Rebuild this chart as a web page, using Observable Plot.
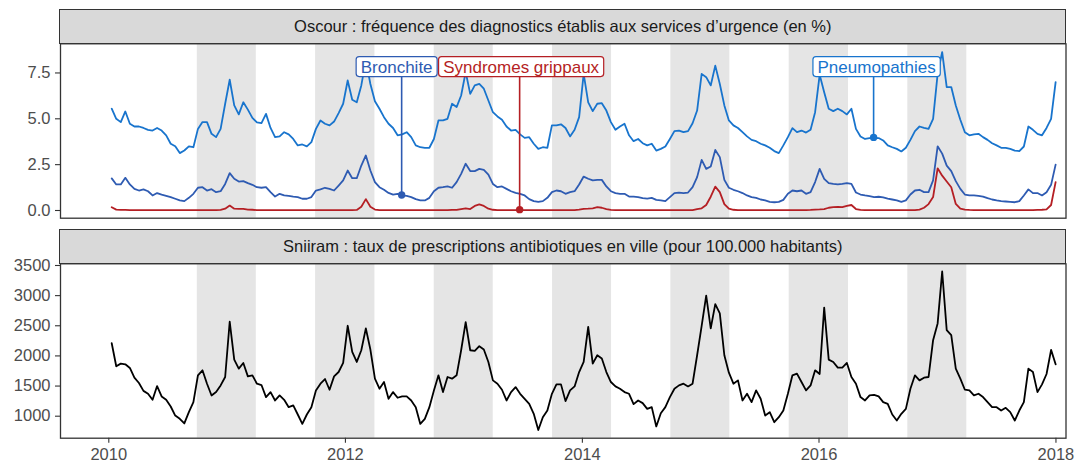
<!DOCTYPE html>
<html><head><meta charset="utf-8">
<script src="https://cdn.jsdelivr.net/npm/d3@7"></script>
<script src="https://cdn.jsdelivr.net/npm/@observablehq/plot@0.6"></script>
<style>
body{margin:0;background:#fff;}
#wrap{position:relative;width:1092px;height:465px;overflow:hidden;font-family:"Liberation Sans",Arial,sans-serif;}
.strip{position:absolute;box-sizing:border-box;background:#d9d9d9;border:1.3px solid #333;color:#1a1a1a;font-size:16.5px;display:flex;align-items:center;justify-content:center;white-space:nowrap;}
.pl{position:absolute;left:0;}
</style></head>
<body><div id="wrap">
<div id="p1" class="pl" style="top:0px"></div>
<div id="p2" class="pl" style="top:220px"></div>
<div class="strip" style="left:59.4px;top:9px;width:1006.8px;height:35px">Oscour : fréquence des diagnostics établis aux services d’urgence (en %)</div>
<div class="strip" style="left:59.4px;top:229px;width:1006.8px;height:35px">Sniiram : taux de prescriptions antibiotiques en ville (pour 100.000 habitants)</div>
</div>
<script>
// ---- data (biweekly, from 2010-01-10) ----
const startDate = new Date(2010, 0, 10);
const seriesNames = ["Pneumopathies", "Bronchite", "Syndromes grippaux"];
const pneumopathies = [
5.55,5.0,4.82,5.4,4.73,4.58,4.58,4.5,4.4,4.36,
4.5,4.36,4.1,3.64,3.5,3.13,3.27,3.5,3.45,4.45,
4.82,4.82,4.18,4.0,4.45,5.82,7.13,5.73,5.24,5.9,
5.5,5.05,4.8,4.76,5.27,4.5,4.0,4.04,4.27,4.15,
3.9,3.55,3.6,3.5,3.73,4.45,4.91,4.73,4.64,4.85,
5.31,5.82,7.09,6.04,5.9,6.82,8.2,6.9,5.96,5.55,
5.09,4.73,4.5,4.1,4.15,4.27,4.0,3.55,3.45,3.42,
3.42,3.9,4.91,4.91,5.0,5.82,5.64,6.27,7.55,6.36,
6.82,6.9,6.64,6.0,5.36,5.13,4.95,4.58,4.36,4.4,
4.15,3.96,4.0,3.64,3.36,3.45,3.42,4.64,4.64,4.7,
4.5,4.04,4.4,5.09,7.45,5.9,5.42,5.82,5.85,5.45,
4.82,4.4,4.58,4.73,4.1,3.78,3.9,3.67,3.55,3.64,
3.27,3.36,3.49,3.9,4.33,4.36,4.27,4.33,4.76,5.45,
7.45,7.27,6.82,7.9,6.9,5.73,4.91,4.64,4.5,4.27,
4.04,3.85,3.78,3.64,3.55,3.42,3.24,3.13,3.55,4.0,
4.49,4.27,4.36,4.25,4.4,5.36,7.4,6.45,5.55,5.42,
5.55,5.42,5.24,5.55,4.45,4.04,3.9,3.95,3.96,3.95,
3.82,3.55,3.45,3.36,3.22,3.42,3.85,4.33,4.58,4.5,
4.45,5.0,7.45,8.64,6.73,6.73,5.73,4.95,4.27,4.1,
4.15,4.18,4.0,3.85,3.67,3.55,3.42,3.42,3.36,3.27,
3.24,3.49,4.58,4.4,4.18,4.1,4.5,5.0,7.0];
const bronchite = [
1.75,1.42,1.42,1.78,1.42,1.18,1.09,1.15,1.05,0.82,
0.95,0.87,0.8,0.73,0.64,0.55,0.51,0.69,0.91,1.24,
1.27,1.09,1.16,1.0,1.05,1.45,2.04,1.73,1.58,1.6,
1.49,1.4,1.27,1.24,1.27,1.0,0.76,0.91,0.82,0.8,
0.76,0.73,0.64,0.64,0.73,1.09,1.15,1.24,1.18,1.09,
1.36,1.64,2.18,1.76,1.76,2.45,3.0,2.18,1.55,1.27,
1.13,0.96,0.87,0.91,0.82,0.8,0.73,0.62,0.55,0.55,
0.69,1.05,1.24,1.27,1.31,1.24,1.55,2.0,2.55,2.15,
2.15,2.27,2.22,1.96,1.45,1.27,1.31,1.18,1.05,0.96,
0.91,0.82,0.62,0.51,0.47,0.51,0.69,1.0,1.09,1.05,
0.91,1.0,1.05,1.42,1.85,1.73,1.64,1.67,1.67,1.31,
1.05,0.95,0.91,0.91,0.76,0.76,0.73,0.67,0.65,0.69,
0.58,0.55,0.51,0.73,0.95,0.98,0.95,0.98,1.27,1.82,
2.76,2.27,2.4,3.3,2.91,1.67,1.24,1.13,1.05,0.95,
0.82,0.73,0.69,0.6,0.55,0.47,0.45,0.47,0.58,0.91,
1.09,1.05,1.09,0.91,1.0,1.55,2.27,1.73,1.49,1.45,
1.42,1.45,1.49,1.45,0.98,0.87,0.82,0.78,0.73,0.75,
0.71,0.65,0.6,0.55,0.47,0.55,0.87,1.09,1.13,1.0,
1.0,1.64,3.5,3.1,2.45,2.15,1.6,1.18,0.87,0.82,
0.82,0.8,0.76,0.67,0.6,0.55,0.51,0.49,0.47,0.45,
0.51,0.82,1.15,0.95,0.95,0.82,1.0,1.4,2.5];
const syndromesGrippaux = [
0.18,0.05,0.03,0.03,0.02,0.02,0.02,0.02,0.02,0.02,
0.02,0.02,0.02,0.02,0.02,0.02,0.02,0.02,0.02,0.02,
0.02,0.02,0.02,0.02,0.03,0.1,0.27,0.1,0.09,0.09,
0.05,0.04,0.02,0.02,0.02,0.02,0.02,0.02,0.02,0.02,
0.02,0.02,0.02,0.02,0.02,0.02,0.02,0.02,0.02,0.02,
0.02,0.02,0.02,0.02,0.03,0.2,0.62,0.2,0.05,0.02,
0.02,0.02,0.02,0.02,0.02,0.02,0.02,0.02,0.02,0.02,
0.02,0.02,0.02,0.02,0.02,0.03,0.03,0.08,0.12,0.08,
0.25,0.33,0.25,0.1,0.04,0.02,0.02,0.02,0.02,0.02,
0.02,0.02,0.02,0.02,0.02,0.02,0.02,0.02,0.02,0.02,
0.02,0.02,0.02,0.05,0.09,0.1,0.12,0.18,0.15,0.08,
0.03,0.02,0.02,0.02,0.02,0.02,0.02,0.02,0.02,0.02,
0.02,0.02,0.02,0.02,0.02,0.02,0.02,0.02,0.02,0.08,
0.12,0.3,0.75,1.3,1.0,0.35,0.1,0.04,0.02,0.02,
0.02,0.02,0.02,0.02,0.02,0.02,0.02,0.02,0.02,0.02,
0.02,0.02,0.02,0.02,0.03,0.05,0.06,0.08,0.15,0.18,
0.2,0.18,0.25,0.3,0.08,0.03,0.02,0.02,0.02,0.02,
0.02,0.02,0.02,0.02,0.02,0.02,0.02,0.02,0.05,0.15,
0.35,0.73,2.3,1.9,1.58,1.27,0.36,0.1,0.05,0.03,
0.02,0.02,0.02,0.02,0.02,0.02,0.02,0.02,0.02,0.02,
0.02,0.02,0.02,0.02,0.03,0.04,0.06,0.3,1.55];
const sniiram = [
2210,1828,1872,1861,1800,1639,1550,1420,1372,1272,
1500,1328,1272,1161,1011,956,880,1067,1233,1678,
1761,1539,1344,1400,1511,1650,2567,1939,1789,1883,
1661,1678,1539,1517,1317,1400,1261,1344,1272,1150,
1178,1028,872,1028,1150,1428,1539,1617,1439,1661,
1733,1883,2500,2067,1900,2094,2456,2106,1622,1456,
1567,1289,1400,1306,1328,1328,1261,1150,872,956,
1150,1428,1678,1400,1650,1622,1678,2094,2560,2094,
2083,2161,2106,1900,1594,1539,1439,1261,1400,1483,
1372,1289,1206,1039,770,983,1094,1372,1528,1528,
1250,1428,1494,1733,1900,2480,1872,2011,1956,1733,
1567,1494,1456,1400,1372,1200,1261,1217,1122,1150,
830,1050,1150,1317,1456,1511,1539,1494,1539,2011,
2500,3000,2456,2860,2706,2011,1722,1539,1594,1261,
1372,1233,1428,1289,1011,1067,900,983,1094,1372,
1678,1706,1567,1428,1511,1761,1700,2800,1939,1900,
1806,1806,1883,1650,1539,1317,1261,1344,1355,1328,
1233,1206,1028,928,1039,1122,1456,1678,1594,1639,
1650,2261,2539,3400,2428,2344,1789,1622,1439,1428,
1344,1372,1317,1233,1150,1150,1094,1139,1067,928,
1094,1233,1789,1733,1400,1528,1700,2100,1860];
const winterStartYears = [2010, 2011, 2012, 2013, 2014, 2015, 2016];
const oscourTicks = [0, 2.5, 5, 7.5];
const sniiramTicks = [1000, 1500, 2000, 2500, 3000, 3500];
const yearTicks = [2010, 2012, 2014, 2016, 2018];
const labelIndex = {"Bronchite": 64, "Syndromes grippaux": 90, "Pneumopathies": 168};

// ---- derived ----
const dates = pneumopathies.map((_, k) => d3.timeDay.offset(startDate, 14 * k));
const valuesBySeries = {"Pneumopathies": pneumopathies, "Bronchite": bronchite, "Syndromes grippaux": syndromesGrippaux};
const colors = {"Pneumopathies": "#1874CD", "Bronchite": "#2E5BB2", "Syndromes grippaux": "#B51F24"};
const rowsOf = (arr) => arr.map((v, k) => ({date: dates[k], value: v}));
const bands = winterStartYears.map(y => ({start: new Date(y, 9, 1), end: new Date(y + 1, 3, 1)}));
const xDomain = [new Date(2009, 7, 5), new Date(2018, 1, 1)];
const FONT = '"Liberation Sans", Arial, sans-serif';
const common = {width: 1092, marginLeft: 60, marginRight: 26.5, marginTop: 43.3,
  style: {fontFamily: FONT, fontSize: "16.5px", background: "transparent", overflow: "visible"}};

// label mark (boxed labels with leader line and dot)
const labelShift = {"Bronchite": -5, "Syndromes grippaux": 1.5, "Pneumopathies": 3};
function labelMark(order) {
  return (index, scales) => {
    const g = d3.create("svg:g");
    const ctx = document.createElement("canvas").getContext("2d");
    ctx.font = '17px "Liberation Sans"';
    const cy = scales.y(7.82);
    const h = 20, pad = 4.6;
    for (const name of order) {
      const i = labelIndex[name];
      const px = scales.x(dates[i]);
      const py = scales.y(valuesBySeries[name][i]);
      const col = colors[name];
      const w = ctx.measureText(name).width + 2 * pad;
      const cx = px + labelShift[name];
      g.append("line").attr("x1", px).attr("x2", px).attr("y1", cy + h / 2).attr("y2", py)
        .attr("stroke", col).attr("stroke-width", 1.6);
      g.append("circle").attr("cx", px).attr("cy", py).attr("r", 3.7).attr("fill", col);
      g.append("rect").attr("x", cx - w / 2).attr("y", cy - h / 2).attr("width", w).attr("height", h)
        .attr("rx", 3).attr("fill", "#fff").attr("stroke", col).attr("stroke-width", 1.2);
      g.append("text").attr("x", cx).attr("y", cy).attr("dy", 6.3).attr("text-anchor", "middle")
        .attr("fill", col).attr("font-size", 17).attr("font-family", FONT).text(name);
    }
    return g.node();
  };
}

const p1 = Plot.plot({
  ...common, height: 220, marginBottom: 2.3,
  x: {type: "time", domain: xDomain, axis: null},
  y: {domain: [-0.42, 9.09], axis: null},
  marks: [
    Plot.rect(bands, {x1: "start", x2: "end", fill: "#e5e5e5"}),
    Plot.axisY(oscourTicks, {tickSize: 5, tickPadding: 5, tickFormat: d3.format(".1f"), stroke: "#333", fill: "#4d4d4d", fontSize: 16.5, strokeWidth: 1.1, label: null}),
    Plot.line(rowsOf(pneumopathies), {x: "date", y: "value", stroke: colors["Pneumopathies"], strokeWidth: 1.8}),
    Plot.line(rowsOf(bronchite), {x: "date", y: "value", stroke: colors["Bronchite"], strokeWidth: 1.8}),
    Plot.line(rowsOf(syndromesGrippaux), {x: "date", y: "value", stroke: colors["Syndromes grippaux"], strokeWidth: 1.8}),
    labelMark(["Bronchite", "Syndromes grippaux", "Pneumopathies"]),
    Plot.frame({stroke: "#333", strokeWidth: 1.3})
  ]
});
document.getElementById("p1").append(p1);

const p2 = Plot.plot({
  ...common, height: 245, marginBottom: 27.3,
  x: {type: "time", domain: xDomain, axis: null},
  y: {domain: [635, 3528], axis: null},
  marks: [
    Plot.rect(bands, {x1: "start", x2: "end", fill: "#e5e5e5"}),
    Plot.axisY(sniiramTicks, {tickSize: 5, tickPadding: 5, tickFormat: d3.format("d"), stroke: "#333", fill: "#4d4d4d", fontSize: 16.5, strokeWidth: 1.1, label: null}),
    Plot.axisX(yearTicks.map(y => new Date(y, 0, 1)), {tickSize: 5, tickPadding: 5, tickFormat: d3.timeFormat("%Y"), stroke: "#333", fill: "#4d4d4d", fontSize: 16.5, strokeWidth: 1.1, label: null}),
    Plot.line(rowsOf(sniiram), {x: "date", y: "value", stroke: "#000", strokeWidth: 1.8}),
    Plot.frame({stroke: "#333", strokeWidth: 1.3})
  ]
});
document.getElementById("p2").append(p2);
</script>
</body></html>
